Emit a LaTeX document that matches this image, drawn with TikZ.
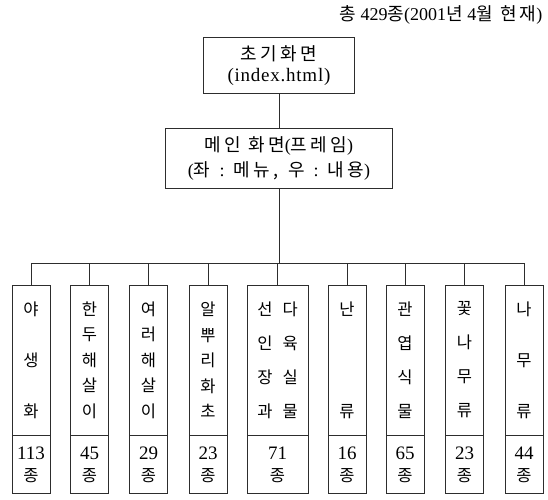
\documentclass[tikz,border=0pt]{standalone}
\usepackage{fontspec}
\setmainfont{Liberation Serif}
\newfontfamily\hg{Noto Sans CJK KR}
\newfontfamily\hgw{Noto Sans CJK KR}[LetterSpace=18]
\usetikzlibrary{positioning}
\definecolor{lineGray}{RGB}{45,45,45}

\begin{document}
\begin{tikzpicture}[x=1pt,y=-1pt,
    namebox/.style={draw=lineGray,line width=0.9pt,minimum width=38pt,minimum height=150pt,inner sep=0pt,align=center},
    countbox/.style={draw=lineGray,line width=0.9pt,minimum width=38pt,minimum height=58pt,inner sep=0pt,align=center,anchor=north,
                     font=\fontsize{19}{22}\selectfont},
    link/.style={draw=lineGray,line width=0.5pt}]
\useasboundingbox (0,0) rectangle (548,499);

\node[anchor=east,font=\fontsize{18}{18}\selectfont] (total) at (546,15) {{\hgw 총} 429{\hgw 종}(2001{\hgw 년} 4{\hgw 월 현재})};

\node[draw=lineGray,line width=0.9pt,minimum width=151pt,minimum height=56pt,inner sep=0pt,align=center,
      font=\fontsize{18}{21}\selectfont] (start) at (279,65.5) {
    {\hg\addfontfeature{LetterSpace=20}초기화면}\\{\addfontfeature{LetterSpace=4}\fontsize{19}{21}\selectfont(index.html)}
};

\node[draw=lineGray,line width=0.9pt,minimum width=227pt,minimum height=60pt,inner sep=0pt,align=center,
      font=\fontsize{18}{25}\selectfont] (main) at (279,158) {
    {\hgw 메인 화면}({\hgw 프레임})\\({\hgw 좌}\hspace{9pt}:\hspace{9pt}{\hgw 메뉴,}\hspace{10pt}{\hgw 우}\hspace{9pt}:\hspace{9pt}{\hgw 내용})
};

% plant groups
\node[namebox,font=\fontsize{16.5}{51}\selectfont\hg] (n1) at (31,360) {야\\생\\화};
\node[namebox,font=\fontsize{16.5}{25.5}\selectfont\hg] (n2) at (89.5,360) {한\\두\\해\\살\\이};
\node[namebox,font=\fontsize{16.5}{25.5}\selectfont\hg] (n3) at (148.5,360) {여\\러\\해\\살\\이};
\node[namebox,font=\fontsize{16.5}{25.5}\selectfont\hg] (n4) at (208,360) {알\\뿌\\리\\화\\초};
\node[namebox,minimum width=61pt,font=\fontsize{16.5}{34}\selectfont\hg] (n5) at (277.5,360) {선\hspace{10pt}다\\인\hspace{10pt}육\\장\hspace{10pt}실\\과\hspace{10pt}물};
\node[namebox,font=\fontsize{16.5}{102}\selectfont\hg] (n6) at (347,360) {난\\류};
\node[namebox,font=\fontsize{16.5}{34}\selectfont\hg] (n7) at (405,360) {관\\엽\\식\\물};
\node[namebox,font=\fontsize{16.5}{34}\selectfont\hg] (n8) at (464.5,360) {꽃\\나\\무\\류};
\node[namebox,font=\fontsize{16.5}{51}\selectfont\hg] (n9) at (524,360) {나\\무\\류};

% counts
\node[countbox] (c1) at (n1.south) {113\\{\hg\fontsize{16.5}{22}\selectfont 종}};
\node[countbox] (c2) at (n2.south) {45\\{\hg\fontsize{16.5}{22}\selectfont 종}};
\node[countbox] (c3) at (n3.south) {29\\{\hg\fontsize{16.5}{22}\selectfont 종}};
\node[countbox] (c4) at (n4.south) {23\\{\hg\fontsize{16.5}{22}\selectfont 종}};
\node[countbox,minimum width=61pt] (c5) at (n5.south) {71\\{\hg\fontsize{16.5}{22}\selectfont 종}};
\node[countbox] (c6) at (n6.south) {16\\{\hg\fontsize{16.5}{22}\selectfont 종}};
\node[countbox] (c7) at (n7.south) {65\\{\hg\fontsize{16.5}{22}\selectfont 종}};
\node[countbox] (c8) at (n8.south) {23\\{\hg\fontsize{16.5}{22}\selectfont 종}};
\node[countbox] (c9) at (n9.south) {44\\{\hg\fontsize{16.5}{22}\selectfont 종}};

% connectors
\coordinate (bus) at (279,263);
\draw[link] (start.south) -- (main.north);
\draw[link] (main.south) -- (main.south |- bus);
\draw[link] (n1.north |- bus) -- (n9.north |- bus);
\foreach \i in {1,...,9}
    \draw[link] (n\i.north) -- (n\i.north |- bus);
\end{tikzpicture}
\end{document}
